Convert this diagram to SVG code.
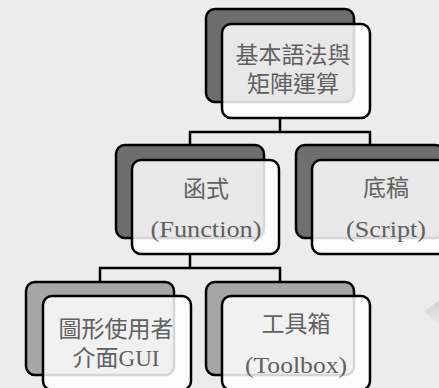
<svg xmlns="http://www.w3.org/2000/svg" width="439" height="388" viewBox="0 0 439 388">
<style>
.back{stroke:#000;stroke-width:2.5}
.dark{fill:#6e6e6e}
.light{fill:#a6a6a6}
.front{fill:#fff;fill-opacity:0.84;stroke:#000;stroke-width:2.5}
.t{font-family:"Liberation Serif","Noto Sans CJK TC",serif;fill:#606060;text-anchor:middle;dominant-baseline:central}
.cjk{font-size:23px}
.lat{font-size:24px}
.conn{fill:none;stroke:#000;stroke-width:2.5}
</style>
<defs>
<linearGradient id="fade" x1="0" y1="0" x2="0" y2="1">
<stop offset="0" stop-color="#d2d2d2"/>
<stop offset="1" stop-color="#e8e8e8"/>
</linearGradient>
</defs>
<rect width="439" height="388" fill="#ececec"/>
<polygon points="424,312 439,300 439,324" fill="url(#fade)"/>
<g id="connectors">
<path class="conn" d="M280,118 V132 M190,145 V132 H370 V145"/>
<path class="conn" d="M190,254 V268 M100,282 V268 H280 V282"/>
</g>
<g id="node-basic">
<rect class="back dark" x="206" y="9" width="148" height="93" rx="9"/>
<rect class="front" x="222" y="24" width="148" height="94" rx="9"/>
<text class="t cjk" x="293" y="55">基本語法與</text>
<text class="t cjk" x="293" y="84">矩陣運算</text>
</g>
<g id="node-function">
<rect class="back dark" x="116" y="145" width="148" height="93" rx="9"/>
<rect class="front" x="132" y="160" width="147" height="94" rx="9"/>
<text class="t cjk" x="206" y="189">函式</text>
<text class="t lat" x="206" y="229" textLength="111" lengthAdjust="spacingAndGlyphs">(Function)</text>
</g>
<g id="node-script">
<rect class="back dark" x="296" y="145" width="148" height="93" rx="9"/>
<rect class="front" x="312" y="160" width="148" height="94" rx="9"/>
<text class="t cjk" x="386" y="188">底稿</text>
<text class="t lat" x="386" y="229" textLength="80" lengthAdjust="spacingAndGlyphs">(Script)</text>
</g>
<g id="node-gui">
<rect class="back light" x="26" y="282" width="148" height="93" rx="9"/>
<rect class="front" x="43" y="296" width="148" height="94" rx="9"/>
<text class="t cjk" x="116" y="329" font-size="24">圖形使用者</text>
<text class="t cjk" x="116" y="358" font-size="24">介面GUI</text>
</g>
<g id="node-toolbox">
<rect class="back light" x="206" y="282" width="148" height="93" rx="9"/>
<rect class="front" x="222" y="296" width="148" height="94" rx="9"/>
<text class="t cjk" x="296" y="324">工具箱</text>
<text class="t lat" x="296" y="365" textLength="102" lengthAdjust="spacingAndGlyphs">(Toolbox)</text>
</g>
</svg>
